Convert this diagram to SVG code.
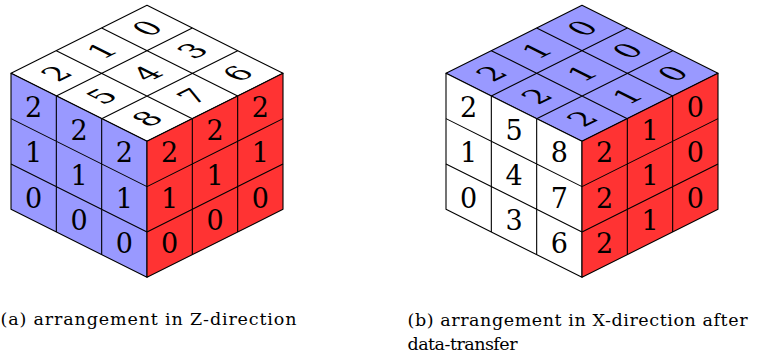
<svg xmlns="http://www.w3.org/2000/svg" width="757" height="358" viewBox="0 0 757 358">
<style>
.f{stroke:#000;stroke-width:1.1;vector-effect:non-scaling-stroke;stroke-linejoin:round}
.g{fill:none;stroke:#000;stroke-width:1.1;vector-effect:non-scaling-stroke}
.d{font-size:27px;text-anchor:middle;fill:#000}
.c{font-size:17.5px;fill:#000}
.blue{fill:#9999ff}.red{fill:#ff3333}.white{fill:#ffffff}
</style>
<g font-family="DejaVu Serif">
<g id="cubeA">
<g id="cubeA-top" transform="matrix(1,-0.5,1,0.5,11,73.3)">
<rect class="f white" x="0" y="0" width="136" height="136"/>
<path class="g" d="M45.33 0V136M90.67 0V136M0 45.33H136M0 90.67H136"/>
<text class="d" x="22.67" y="32.5">2</text><text class="d" x="68" y="32.5">1</text><text class="d" x="113.33" y="32.5">0</text>
<text class="d" x="22.67" y="77.8">5</text><text class="d" x="68" y="77.8">4</text><text class="d" x="113.33" y="77.8">3</text>
<text class="d" x="22.67" y="123.1">8</text><text class="d" x="68" y="123.1">7</text><text class="d" x="113.33" y="123.1">6</text>
</g>
<g id="cubeA-left">
<g transform="matrix(1,0.5,0,1,11,73.3)">
<rect class="f blue" x="0" y="0" width="136" height="136"/>
<path class="g" d="M45.33 0V136M90.67 0V136M0 45.33H136M0 90.67H136"/>
</g>
<text class="d" x="33.67" y="117.1">2</text><text class="d" x="33.67" y="162.4">1</text><text class="d" x="33.67" y="207.8">0</text>
<text class="d" x="79" y="139.8">2</text><text class="d" x="79" y="185.1">1</text><text class="d" x="79" y="230.4">0</text>
<text class="d" x="124.33" y="162.4">2</text><text class="d" x="124.33" y="207.8">1</text><text class="d" x="124.33" y="253.1">0</text>
</g>
<g id="cubeA-right">
<g transform="matrix(1,-0.5,0,1,147,141.3)">
<rect class="f red" x="0" y="0" width="136" height="136"/>
<path class="g" d="M45.33 0V136M90.67 0V136M0 45.33H136M0 90.67H136"/>
</g>
<text class="d" x="169.67" y="162.4">2</text><text class="d" x="169.67" y="207.8">1</text><text class="d" x="169.67" y="253.1">0</text>
<text class="d" x="215" y="139.8">2</text><text class="d" x="215" y="185.1">1</text><text class="d" x="215" y="230.4">0</text>
<text class="d" x="260.33" y="117.1">2</text><text class="d" x="260.33" y="162.4">1</text><text class="d" x="260.33" y="207.8">0</text>
</g>
</g>

<g id="cubeB" transform="translate(435,0)">
<g id="cubeB-top" transform="matrix(1,-0.5,1,0.5,11,73.3)">
<rect class="f blue" x="0" y="0" width="136" height="136"/>
<path class="g" d="M45.33 0V136M90.67 0V136M0 45.33H136M0 90.67H136"/>
<text class="d" x="22.67" y="32.5">2</text><text class="d" x="68" y="32.5">1</text><text class="d" x="113.33" y="32.5">0</text>
<text class="d" x="22.67" y="77.8">2</text><text class="d" x="68" y="77.8">1</text><text class="d" x="113.33" y="77.8">0</text>
<text class="d" x="22.67" y="123.1">2</text><text class="d" x="68" y="123.1">1</text><text class="d" x="113.33" y="123.1">0</text>
</g>
<g id="cubeB-left">
<g transform="matrix(1,0.5,0,1,11,73.3)">
<rect class="f white" x="0" y="0" width="136" height="136"/>
<path class="g" d="M45.33 0V136M90.67 0V136M0 45.33H136M0 90.67H136"/>
</g>
<text class="d" x="33.67" y="117.1">2</text><text class="d" x="33.67" y="162.4">1</text><text class="d" x="33.67" y="207.8">0</text>
<text class="d" x="79" y="139.8">5</text><text class="d" x="79" y="185.1">4</text><text class="d" x="79" y="230.4">3</text>
<text class="d" x="124.33" y="162.4">8</text><text class="d" x="124.33" y="207.8">7</text><text class="d" x="124.33" y="253.1">6</text>
</g>
<g id="cubeB-right">
<g transform="matrix(1,-0.5,0,1,147,141.3)">
<rect class="f red" x="0" y="0" width="136" height="136"/>
<path class="g" d="M45.33 0V136M90.67 0V136M0 45.33H136M0 90.67H136"/>
</g>
<text class="d" x="169.67" y="162.4">2</text><text class="d" x="169.67" y="207.8">2</text><text class="d" x="169.67" y="253.1">2</text>
<text class="d" x="215" y="139.8">1</text><text class="d" x="215" y="185.1">1</text><text class="d" x="215" y="230.4">1</text>
<text class="d" x="260.33" y="117.1">0</text><text class="d" x="260.33" y="162.4">0</text><text class="d" x="260.33" y="207.8">0</text>
</g>
</g>

<g id="captions">
<text class="c" x="0.5" y="325" textLength="296" lengthAdjust="spacing">(a) arrangement in Z-direction</text>
<text class="c" x="407.5" y="325.5" textLength="340" lengthAdjust="spacing">(b) arrangement in X-direction after</text>
<text class="c" x="407.5" y="350" textLength="110" lengthAdjust="spacing">data-transfer</text>
</g>
</g>
</svg>
